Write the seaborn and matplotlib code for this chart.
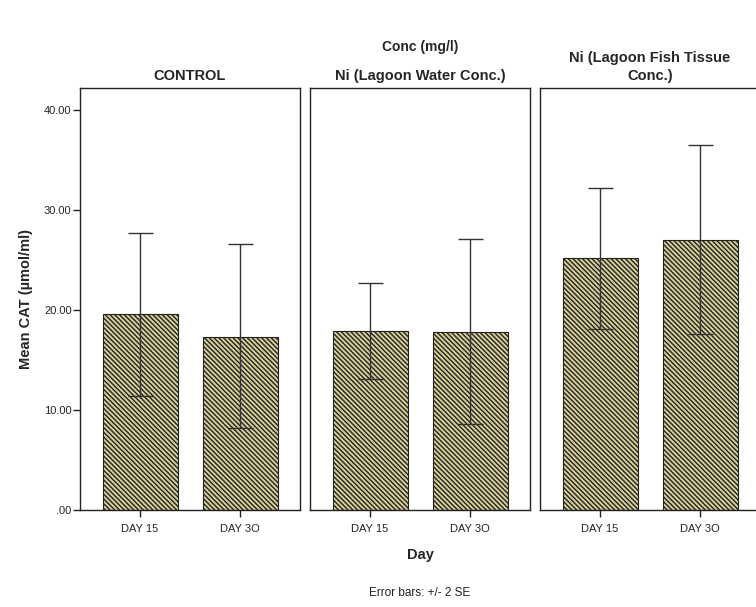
import numpy as np
import pandas as pd
import matplotlib
matplotlib.use('Agg')
import matplotlib.pyplot as plt
import seaborn as sns

# data
groups = ['CONTROL', 'Ni (Lagoon Water Conc.)', 'Ni (Lagoon Fish Tissue\nConc.)']
days = ['DAY 15', 'DAY 3O']
mean_control = [19.6, 17.3]
mean_water = [17.9, 17.8]
mean_fish = [25.2, 27.0]
low_control = [11.4, 8.2]
low_water = [13.1, 8.6]
low_fish = [18.1, 17.6]
high_control = [27.7, 26.6]
high_water = [22.7, 27.1]
high_fish = [32.2, 36.5]
yticks = [0, 10, 20, 30, 40]
ytick_labels = ['.00', '10.00', '20.00', '30.00', '40.00']

means = [mean_control, mean_water, mean_fish]
lows = [low_control, low_water, low_fish]
highs = [high_control, high_water, high_fish]

sns.set_style('white')
plt.rcParams['font.family'] = ['Liberation Sans', 'DejaVu Sans']
plt.rcParams['hatch.linewidth'] = 1.0

W, H = 756, 607
fig = plt.figure(figsize=(W / 100, H / 100), dpi=100)

lefts = [80, 310, 540]
top, bottom = 88, 510
for i, g in enumerate(groups):
    ax = fig.add_axes([lefts[i] / W, (H - bottom) / H, 220 / W, (bottom - top) / H])
    df = pd.DataFrame({'Day': days, 'Mean': means[i]})
    sns.barplot(data=df, x='Day', y='Mean', ax=ax, color='#d6cf98', width=0.75,
                errorbar=None, edgecolor='#222222', linewidth=0.8, hatch='\\' * 7,
                saturation=1)
    m = np.array(means[i])
    yerr = [m - np.array(lows[i]), np.array(highs[i]) - m]
    ax.errorbar([0, 1], m, yerr=yerr, fmt='none', ecolor='#333333', elinewidth=1.0,
                capsize=9, capthick=1.0)
    ax.set_xlim(-0.6, 1.6)
    ax.set_ylim(0, 42.2)
    for s in ax.spines.values():
        s.set_color('#222222')
        s.set_linewidth(1.0)
    ax.set_xlabel('')
    ax.set_ylabel('')
    ax.tick_params(axis='x', direction='out', length=5, width=1, color='#222222',
                   labelsize=8, pad=5, bottom=True)
    ax.set_title(g, fontsize=10.5, fontweight='bold', pad=6, linespacing=1.3)
    if i == 0:
        ax.set_yticks(yticks)
        ax.set_yticklabels(ytick_labels)
        ax.tick_params(axis='y', direction='out', length=5, width=1, color='#222222',
                       labelsize=8, pad=1, left=True)
        ax.set_ylabel('Mean CAT (µmol/ml)', fontsize=10.5, fontweight='bold', labelpad=8)
    else:
        ax.set_yticks([])

fig.text(420 / W, 1 - 47 / H, 'Conc (mg/l)', ha='center', va='center',
         fontsize=10, fontweight='bold')
fig.text(420 / W, 1 - 555 / H, 'Day', ha='center', va='center',
         fontsize=10.5, fontweight='bold')
fig.text(420 / W, 1 - 593 / H, 'Error bars: +/- 2 SE', ha='center', va='center',
         fontsize=8.5, color='#222222')

fig.savefig('out.png', dpi=100)
